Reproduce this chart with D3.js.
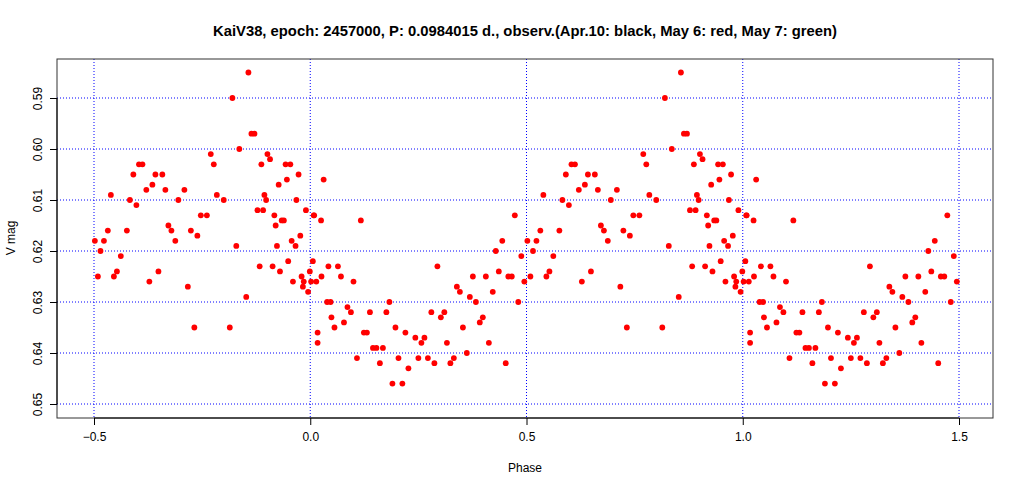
<!DOCTYPE html><html><head><meta charset="utf-8"><script src="https://cdn.jsdelivr.net/npm/d3@7"></script>
<style>body{margin:0;background:#fff}text{font-family:"Liberation Sans",Arial,sans-serif}</style></head><body><svg id="c" width="1024" height="492"></svg><script>
const titleText="KaiV38, epoch: 2457000, P: 0.0984015 d., observ.(Apr.10: black, May 6: red, May 7: green)";
const xTicks=[-0.5,0,0.5,1,1.5];
const yTicks=[0.59,0.60,0.61,0.62,0.63,0.64,0.65];
const phase=[-0.498,-0.491,-0.485,-0.477,-0.468,-0.461,-0.454,-0.447,-0.438,-0.424,-0.417,-0.409,-0.402,-0.396,-0.388,-0.379,-0.372,-0.365,-0.358,-0.351,-0.342,-0.335,-0.328,-0.321,-0.312,-0.305,-0.291,-0.283,-0.276,-0.268,-0.261,-0.253,-0.239,-0.230,-0.223,-0.216,-0.200,-0.186,-0.180,-0.171,-0.164,-0.148,-0.143,-0.136,-0.129,-0.122,-0.117,-0.113,-0.109,-0.106,-0.102,-0.099,-0.093,-0.087,-0.083,-0.080,-0.077,-0.073,-0.070,-0.066,-0.061,-0.057,-0.054,-0.051,-0.046,-0.043,-0.040,-0.034,-0.032,-0.027,-0.023,-0.020,-0.017,-0.015,-0.010,-0.005,-0.001,0.002,0.006,0.008,0.009,0.014,0.017,0.017,
0.025,0.031,0.026,0.042,0.039,0.047,0.049,0.056,0.064,0.071,0.078,0.086,0.094,0.100,0.108,0.117,0.124,0.131,0.138,0.145,0.153,0.161,0.168,0.176,0.183,0.190,0.197,0.204,0.213,0.220,0.227,0.243,0.250,0.257,0.264,0.272,0.280,0.287,0.294,0.302,0.310,0.316,0.324,0.332,0.339,0.346,0.353,0.362,0.369,0.376,0.383,0.392,0.399,0.406,0.413,0.422,0.429,0.436,0.444,0.452,0.458,0.466,0.473,0.481,0.488,0.495];
const vmag=[0.618,0.625,0.620,0.618,0.616,0.609,0.625,0.624,0.621,0.616,0.610,0.605,0.611,0.603,0.603,0.608,0.626,0.607,0.605,0.624,0.605,0.608,0.615,0.616,0.618,0.610,0.608,0.627,0.616,0.635,0.617,0.613,0.613,0.601,0.603,0.609,0.610,0.635,0.590,0.619,0.600,0.629,0.585,0.597,0.597,0.612,0.623,0.603,0.612,0.609,0.610,0.601,0.602,0.623,0.613,0.615,0.619,0.607,0.624,0.614,0.614,0.603,0.606,0.622,0.603,0.618,0.626,0.619,0.610,0.605,0.617,0.625,0.627,0.626,0.612,0.628,0.624,0.626,0.622,0.613,0.613,0.626,0.636,0.638,
0.614,0.606,0.625,0.623,0.630,0.630,0.633,0.635,0.623,0.625,0.634,0.631,0.632,0.626,0.641,0.614,0.636,0.636,0.632,0.639,0.639,0.642,0.639,0.632,0.630,0.646,0.635,0.641,0.646,0.636,0.643,0.637,0.641,0.638,0.637,0.641,0.632,0.642,0.623,0.633,0.632,0.638,0.642,0.641,0.627,0.628,0.635,0.640,0.629,0.625,0.630,0.634,0.633,0.625,0.638,0.628,0.620,0.624,0.618,0.642,0.625,0.625,0.613,0.630,0.621,0.626];
const svg=d3.select("#c");
const L=57,R=993,T=59,B=418;
const x=d3.scaleLinear().domain([-0.5,1.5]).range([94,959]);
const y=d3.scaleLinear().domain([0.59,0.65]).range([98,404]);
svg.append("text").attr("x",525).attr("y",36).attr("text-anchor","middle").attr("font-weight","bold").attr("font-size",14.8).text(titleText);
const g=svg.append("g");
xTicks.forEach(t=>g.append("line").attr("x1",x(t)).attr("x2",x(t)).attr("y1",T).attr("y2",B).attr("stroke","#0000ff").attr("stroke-dasharray","1,2"));
yTicks.forEach(t=>g.append("line").attr("x1",L).attr("x2",R).attr("y1",y(t)).attr("y2",y(t)).attr("stroke","#0000ff").attr("stroke-dasharray","1,2"));
const pts=[];phase.forEach((p,i)=>{pts.push([p,vmag[i]]);pts.push([p+1,vmag[i]]);});
svg.append("g").selectAll("circle").data(pts).join("circle").attr("cx",d=>x(d[0])).attr("cy",d=>y(d[1])).attr("r",2.9).attr("fill","#ff0000");
svg.append("rect").attr("x",L).attr("y",T).attr("width",R-L).attr("height",B-T).attr("fill","none").attr("stroke","#333");
const xa=svg.append("g").attr("transform",`translate(0,${B})`).call(d3.axisBottom(x).tickValues(xTicks).tickSize(7).tickFormat(d3.format(".1f")));
xa.select(".domain").attr("d",`M${x(-0.5)},0H${x(1.5)}`);
xa.selectAll("text").attr("font-size",12).attr("dy","1.1em").attr("font-family","Liberation Sans");
const ya=svg.append("g").attr("transform",`translate(${L},0)`).call(d3.axisLeft(y).tickValues(yTicks).tickSize(7).tickFormat(d3.format(".2f")));
ya.select(".domain").attr("d",`M0,${y(0.59)}V${y(0.65)}`);
ya.selectAll("text").attr("font-size",12).attr("font-family","Liberation Sans").attr("text-anchor","middle").attr("transform","rotate(-90)").attr("x",0).attr("y",-15).attr("dx",0).attr("dy",0);
svg.append("text").attr("x",525).attr("y",472).attr("text-anchor","middle").attr("font-size",12).text("Phase");
svg.append("text").attr("transform","translate(15,238) rotate(-90)").attr("text-anchor","middle").attr("font-size",12).text("V mag");
</script></body></html>
